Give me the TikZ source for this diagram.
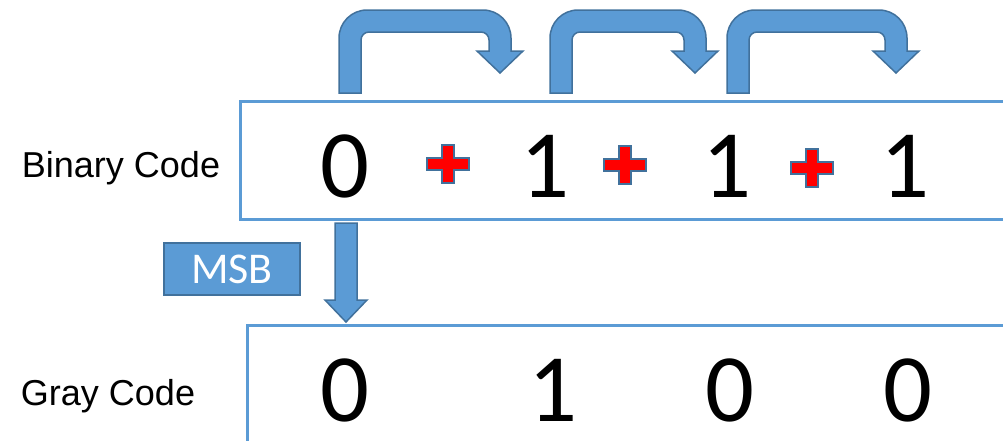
\documentclass[tikz,border=0pt]{standalone}
\usepackage{fontspec}
\setmainfont{Liberation Sans}
\newfontfamily\digitfont{Carlito}
\definecolor{boxblue}{HTML}{5B9BD5}
\definecolor{edgeblue}{HTML}{41719C}

% #1 = left edge of the shaft, #2 = x of the tip
\newcommand{\bentarrow}[2]{%
  \draw[blockarrow] (#1,93) -- (#1,38) arc[start angle=180,end angle=270,radius=28]
    -- ({#2+11-28},10) arc[start angle=270,end angle=360,radius=28]
    -- ({#2+11},51) -- ({#2+23},51) -- (#2,73) -- ({#2-23},51) -- ({#2-11},51)
    -- ({#2-11},40) arc[start angle=0,end angle=-90,radius=8]
    -- ({#1+30},32) arc[start angle=270,end angle=180,radius=8]
    -- ({#1+22},93) -- cycle;}

\begin{document}
\begin{tikzpicture} [
  x=0.02cm, y=-0.02cm,
  codebox/.style={draw=boxblue,line width=0.06cm},
  blockarrow/.style={fill=boxblue,draw=edgeblue,line width=0.03cm},
  digit/.style={anchor=base,inner sep=0,font=\digitfont\fontsize{55}{60}\selectfont},
  codename/.style={anchor=base,inner sep=0,font=\fontsize{20.5}{24}\selectfont},
  msbbox/.style={fill=boxblue,draw=edgeblue,line width=0.05cm,text=white,
    minimum width=2.72cm,minimum height=1.04cm,inner sep=0,
    font=\digitfont\fontsize{25}{30}\selectfont},
  redplus/.pic={
    \draw[fill=red,draw=edgeblue,line width=0.05cm]
      (-6,-19) -- (6,-19) -- (6,-6) -- (21,-6) -- (21,6) -- (6,6) -- (6,19)
      -- (-6,19) -- (-6,6) -- (-21,6) -- (-21,-6) -- (-6,-6) -- cycle;}
  ]
  \useasboundingbox (0,0) rectangle (1003,440);
  \clip (0,0) rectangle (1003,440);

  \draw[codebox] (240,101) rectangle (1020,219);
  \draw[codebox] (247,325) rectangle (1020,460);

  \node[codename] (binname) at (121,177) {Binary Code};
  \node[codename] (grayname) at (108,405) {Gray Code};

  \node[digit] (b0) at (345,197) {0};
  \node[digit] (b1) at (545,197) {1};
  \node[digit] (b2) at (727,197) {1};
  \node[digit] (b3) at (905,197) {1};

  \node[digit] (g0) at (345,421) {0};
  \node[digit] (g1) at (553,421) {1};
  \node[digit] (g2) at (730,421) {0};
  \node[digit] (g3) at (908,421) {0};

  \pic at (448,164) {redplus};
  \pic at (625,165) {redplus};
  \pic at (812,168) {redplus};

  \bentarrow{339}{500}
  \bentarrow{550}{695}
  \bentarrow{727}{896}

  \node[msbbox] (msb) at (232,269) {MSB};
  \draw[blockarrow] (335,223) -- (357,223) -- (357,300) -- (367,300)
    -- (346,322) -- (325,300) -- (335,300) -- cycle;
\end{tikzpicture}
\end{document}
